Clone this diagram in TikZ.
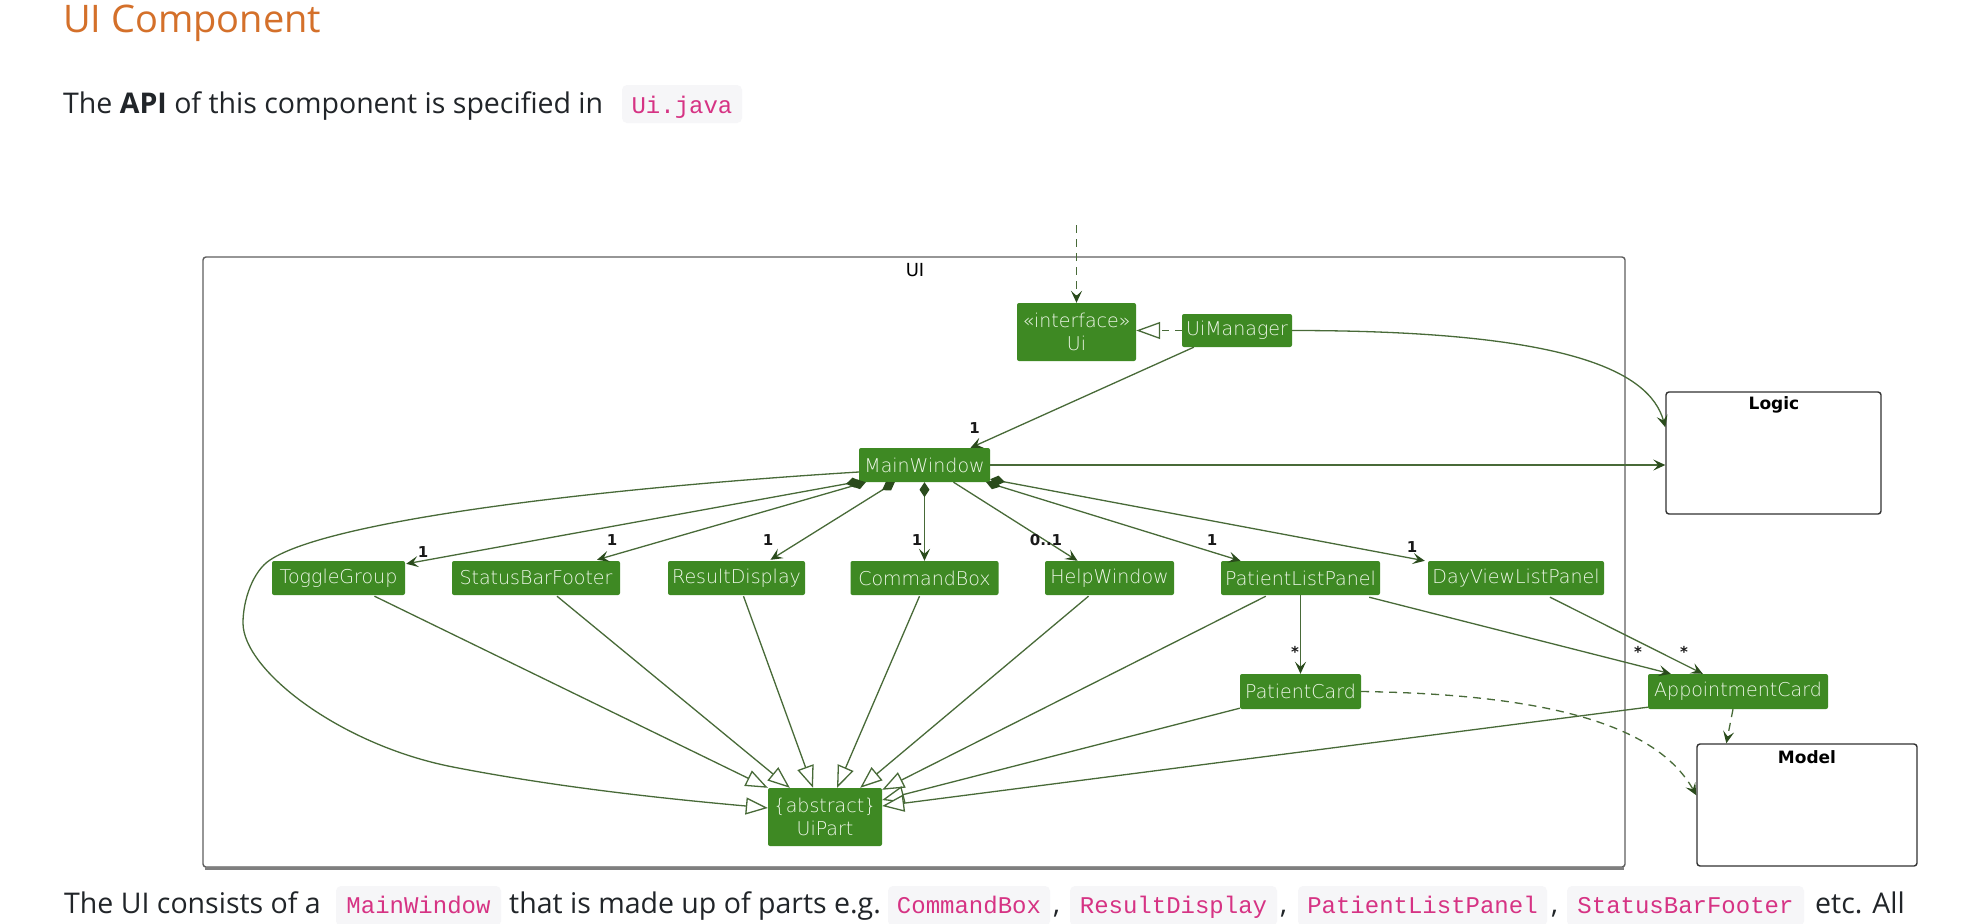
\documentclass[tikz,border=0pt]{standalone}
\usepackage{fontspec}
\setmainfont{Open Sans}
\newfontfamily\nodefont{DejaVu Sans ExtraLight}
\newfontfamily\lblfont{DejaVu Sans}
\newfontfamily\codefont{Liberation Mono}
\usetikzlibrary{arrows.meta,calc}
\definecolor{nodegreen}{RGB}{62,137,35}
\definecolor{nodetext}{RGB}{240,248,234}
\definecolor{linegreen}{RGB}{72,106,56}
\definecolor{arrowgreen}{RGB}{42,75,28}
\definecolor{pkgborder}{RGB}{50,50,50}
\definecolor{uiborder}{RGB}{95,95,95}
\definecolor{titleorange}{RGB}{212,112,42}
\definecolor{bodytext}{RGB}{33,37,41}
\definecolor{codepink}{RGB}{214,51,132}
\definecolor{chipbg}{RGB}{246,246,248}
\tikzset{
  cls/.style={fill=nodegreen, rounded corners=2pt, text=nodetext, inner sep=0pt, align=center,
    font=\nodefont\fontsize{19}{23}\selectfont},
  pkgbox/.style={draw=pkgborder, line width=1.4pt, rounded corners=3pt, inner sep=0pt},
  pkglabel/.style={font=\lblfont\bfseries\fontsize{17}{20}\selectfont, inner sep=0pt, text=black},
  mult/.style={font=\lblfont\bfseries\fontsize{15}{18}\selectfont, inner sep=0pt, text=black!90},
  conn/.style={draw=linegreen, line width=1.3pt},
  nav/.style={conn, -{Stealth[length=12pt,width=11pt,inset=5pt,color=arrowgreen]}},
  comp/.style={conn, {Diamond[length=15pt,width=10pt,color=arrowgreen]}-{Stealth[length=12pt,width=11pt,inset=5pt,color=arrowgreen]}},
  ext/.style={conn, -{Triangle[length=22pt,width=17pt,fill=white]}},
  realiz/.style={conn, dash pattern=on 7pt off 6pt, -{Triangle[length=24pt,width=17pt,fill=white]}},
  dep/.style={conn, dash pattern=on 8pt off 6pt, -{Stealth[length=12pt,width=11pt,inset=5pt,color=arrowgreen]}},
  body/.style={font=\fontsize{28.5}{34}\selectfont, text=bodytext, inner sep=0pt, anchor=base west},
  chip/.style={fill=chipbg, rounded corners=5pt, inner sep=0pt},
  code/.style={font=\codefont\fontsize{24}{28}\selectfont, text=codepink, inner sep=0pt, anchor=base},
}
\begin{document}
\begin{tikzpicture}[x=1pt,y=-1pt]
\useasboundingbox (0,0) rectangle (1966,924);
\fill[white] (0,0) rectangle (1966,924);

% page text
\node[anchor=base west, inner sep=0pt, text=titleorange, font=\fontsize{38}{44}\selectfont] (title) at (63,32) {UI Component};
\node[body] (intro) at (63,113) {The \textbf{API} of this component is specified in};
\node[chip, minimum width=120pt, minimum height=38pt] (chipui) at (682,104) {};
\node[code] (uijava) at (682,113) {Ui.java};

% containers
\node[draw=uiborder, line width=1.4pt, rounded corners=3pt, minimum width=1422pt, minimum height=610pt, inner sep=0pt] (uibox) at (914,562) {};
\draw[uiborder!80, line width=2.6pt] ($(uibox.south west)+(3,0.6)$) -- ($(uibox.south east)+(-2,0.6)$);
\node[font=\lblfont\fontsize{18}{20}\selectfont, inner sep=0pt] (uilabel) at (915,270) {UI};
\node[pkgbox, minimum width=215pt, minimum height=122pt] (logic) at (1773.5,453) {};
\node[pkglabel] (logiclabel) at (1774,405) {Logic};
\node[pkgbox, minimum width=220pt, minimum height=122pt] (model) at (1807,805) {};
\node[pkglabel] (modellabel) at (1807,757) {Model};

% classes
\node[cls, minimum width=119pt, minimum height=58pt] (ui) at (1076.5,332) {«interface»\\Ui};
\node[cls, minimum width=110pt, minimum height=33pt] (uim) at (1237,330.5) {UiManager};
\node[cls, minimum width=131pt, minimum height=34pt] (mw) at (924.5,465) {MainWindow};
\node[cls, minimum width=133pt, minimum height=34pt] (tg) at (338.5,578) {ToggleGroup};
\node[cls, minimum width=168pt, minimum height=34pt] (sbf) at (536,578) {StatusBarFooter};
\node[cls, minimum width=137pt, minimum height=34pt] (rd) at (736.5,578) {ResultDisplay};
\node[cls, minimum width=148pt, minimum height=34pt] (cb) at (924.5,578) {CommandBox};
\node[cls, minimum width=129pt, minimum height=34pt] (hw) at (1109.5,578) {HelpWindow};
\node[cls, minimum width=159pt, minimum height=34pt] (plp) at (1300.5,578) {PatientListPanel};
\node[cls, minimum width=176pt, minimum height=34pt] (dvlp) at (1516,578) {DayViewListPanel};
\node[cls, minimum width=121pt, minimum height=35pt] (pc) at (1300.5,691.5) {PatientCard};
\node[cls, minimum width=180pt, minimum height=35pt] (ac) at (1738,691.5) {AppointmentCard};
\node[cls, minimum width=114pt, minimum height=58pt] (up) at (825,817) {\{abstract\}\\UiPart};

% connectors at top
\coordinate (entry) at (1076.5,225);
\draw[dep] (entry) -- (ui.north);
\draw[realiz] (uim.west) -- (ui.east |- uim.west);
\draw[nav] (uim.east) .. controls +(270,0) and +(-16,-58) .. ($(logic.north west)+(0,36)$);
\draw[nav] ($(uim.south west)+(12,0)$) -- ($(mw.north)+(46,0)$);
\node[mult] (m0) at (974.5,428) {1};
\draw[nav] (mw.east) -- (mw.east -| logic.west);

% compositions
\draw[comp] ($(mw.south west)+(2,-1)$) -- ($(tg.north east)+(1,3)$);
\node[mult] (m1) at (423,552) {1};
\draw[comp] ($(mw.south west)+(7,0)$) -- ($(sbf.north)+(61,-1)$);
\node[mult] (m2) at (612,540) {1};
\draw[comp] ($(mw.south west)+(36,0)$) -- ($(rd.north)+(34,-1)$);
\node[mult] (m3) at (768,540) {1};
\draw[comp] (mw.south) -- (cb.north);
\node[mult] (m4) at (917,540) {1};
\draw[nav] ($(mw.south)+(29,0)$) -- ($(hw.north)+(-32,0)$);
\node[mult] (m5) at (1046,540) {0..1};
\draw[comp] ($(mw.south east)+(-4,0)$) -- ($(plp.north)+(-60,0)$);
\node[mult] (m6) at (1212,540) {1};
\draw[comp] ($(mw.south east)+(0,-3)$) -- ($(dvlp.north west)+(-3,0)$);
\node[mult] (m7) at (1412,547) {1};

% cards
\draw[nav] (plp.south) -- (pc.north);
\node[mult] (m8) at (1295,652) {*};
\draw[nav] ($(plp.south east)+(-11,2)$) -- ($(ac.north west)+(23,0)$);
\node[mult] (m9) at (1638,652) {*};
\draw[nav] ($(dvlp.south)+(34,2)$) -- ($(ac.north west)+(55,0)$);
\node[mult] (m10) at (1684,652) {*};
\draw[dep] (pc.east) .. controls +(200,3) and +(-37,-66) .. ($(model.north west)+(0,52)$);
\draw[dep] ($(ac.south)+(-5,0)$) -- ($(model.north west)+(30,0)$);

% generalisations to UiPart
\draw[ext] ($(tg.south)+(36,1)$) -- (up.north west);
\draw[ext] ($(sbf.south)+(21,1)$) -- ($(up.north west)+(22,0)$);
\draw[ext] ($(rd.south)+(7,1)$) -- ($(up.north)+(-12,0)$);
\draw[ext] ($(cb.south)+(-5,1)$) -- ($(up.north)+(12,0)$);
\draw[ext] ($(hw.south)+(-21,1)$) -- ($(up.north east)+(-22,0)$);
\draw[ext] ($(plp.south west)+(45,1)$) -- ($(up.north east)+(0,2)$);
\draw[ext] ($(pc.south west)+(0,-1)$) -- ($(up.east)+(0,-17)$);
\draw[ext] ($(ac.south west)+(0,-2)$) -- ($(up.east)+(0,-11)$);
\draw[ext] ($(mw.west)+(0,7)$) .. controls (600,488) and (330,520) .. (270,560)
  .. controls (253,571) and (243,600) .. (243,623)
  .. controls (243,670) and (340,745) .. (453,767)
  .. controls (566,789) and (680,800) .. ($(up.west)+(0,-9)$);

% bottom text
\node[body] (t1) at (64,913) {The UI consists of a};
\node[chip, minimum width=165pt, minimum height=40pt] (c1) at (418.5,906) {};
\node[code] (k1) at (418.5,913) {MainWindow};
\node[body] (t2) at (509,913) {that is made up of parts e.g.};
\node[chip, minimum width=162pt, minimum height=40pt] (c2) at (969,906) {};
\node[code] (k2) at (969,913) {CommandBox};
\node[body] (t3) at (1053,913) {,};
\node[chip, minimum width=207pt, minimum height=40pt] (c3) at (1173.5,906) {};
\node[code] (k3) at (1173.5,913) {ResultDisplay};
\node[body] (t4) at (1280,913) {,};
\node[chip, minimum width=249pt, minimum height=40pt] (c4) at (1422.5,906) {};
\node[code] (k4) at (1422.5,913) {PatientListPanel};
\node[body] (t5) at (1551,913) {,};
\node[chip, minimum width=237pt, minimum height=40pt] (c5) at (1685.5,906) {};
\node[code] (k5) at (1685.5,913) {StatusBarFooter};
\node[body] (t6) at (1815,913) {etc. All};
\end{tikzpicture}
\end{document}
